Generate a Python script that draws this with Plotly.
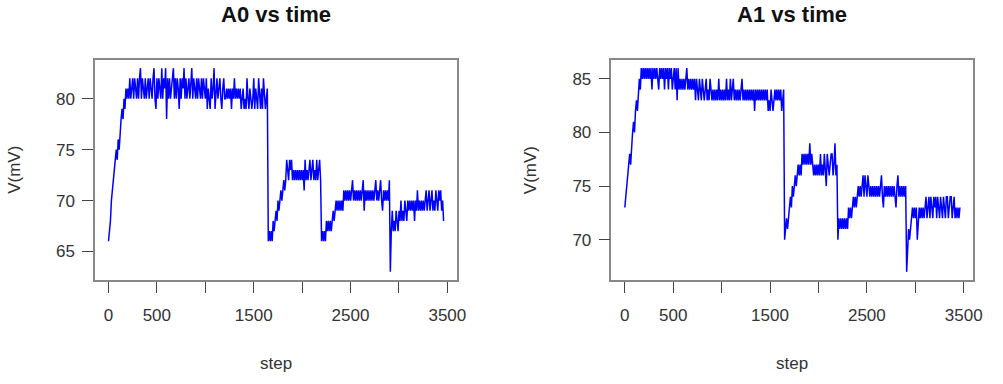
import plotly.graph_objects as go

STEP_SIZE = 10

a0_rise = [66, 67, 68, 70, 71, 72, 73, 74, 75, 74, 76, 75, 77, 78, 79, 78, 80, 79, 81, 80,
           81, 80, 82, 80, 81]
a0_plateau = [
    82, 80, 82, 81, 80, 82, 80, 82, 83, 80,
    82, 81, 80, 82, 80, 81, 82, 80, 82, 81,
    80, 82, 83, 80, 79, 82, 80, 82, 81, 80,
    83, 80, 82, 81, 83, 78, 82, 80, 82, 80,
    81, 82, 83, 80, 82, 80, 82, 81, 79, 82,
    80, 82, 81, 83, 80, 82, 80, 81, 82, 80,
    82, 83, 80, 82, 81, 80, 82, 80, 82, 81,
    80, 82, 80, 82, 81, 80, 82, 79, 81, 80,
    79, 82, 80, 81, 83, 79, 81, 82, 80, 81,
    82, 80, 79, 81, 82, 80,
    80, 81, 80, 81, 80, 81, 79, 81, 80, 82, 80, 81, 80, 81, 80, 81,
    79, 80, 81, 79, 80, 79, 82, 80, 79, 81, 80, 79, 80, 82, 79, 81, 80, 79, 82, 80,
    79, 81, 79, 82, 80, 79, 80, 81,
]
a0_seg2 = [
    66, 67, 66, 67, 66, 68, 67, 68, 69, 68,
    70, 69, 70, 71, 70, 71, 72, 71, 72, 74,
    73, 72, 74, 73, 74, 72, 73, 72, 73, 72,
    73, 72, 73, 72, 73, 72, 73, 71, 74, 72,
    73, 72, 73, 74, 72, 73, 74, 72, 73, 72,
    74, 72, 73, 74, 72,
]
a0_seg3 = [
    66, 67, 66, 67, 66, 68, 67, 68, 67, 68,
    67, 68, 69, 68, 69, 70, 69, 70, 69, 70,
    69, 70, 69, 71, 70, 71, 70, 71, 70, 71,
    70, 71, 72, 70, 71, 70, 71, 70, 71, 70,
    71, 70, 71, 72, 69, 71, 70, 71, 70, 71,
    70, 71, 70, 71, 70, 71, 72, 70, 71, 70,
    71, 72, 70, 69, 71, 70, 71, 70, 71, 70,
    72,
]
a0_seg4 = [
    63, 67, 69, 67, 68, 67, 69, 68, 67, 69,
    68, 70, 68, 69, 68, 70, 69, 68, 70, 69,
    70, 69, 70, 69, 70, 68, 70, 69, 71, 69,
    70, 69, 70, 69, 70, 69, 70, 71, 69, 70,
    71, 69, 70, 71, 69, 70, 69, 71, 70, 69,
    71, 70, 71, 69, 70, 68,
]

a1_rise = [73, 74, 75, 76, 77, 78, 77, 79, 80, 81, 80, 82, 83, 82, 84, 85, 84, 86, 85, 86]
a1_plateau = [
    85, 86, 85, 86, 85, 86, 85, 86, 84, 86,
    85, 86, 85, 86, 85, 84, 86, 85, 86, 85,
    86, 84, 86, 85, 86, 84, 86, 85, 86, 84,
    85, 86, 84, 86, 83, 86, 84, 85, 84, 85,
    84, 85, 84, 85, 86, 84, 85, 84, 85, 84,
    85, 84, 85, 83, 85, 84, 83, 85, 84, 83,
    85, 84, 83, 84, 85, 83, 84, 83, 85, 84,
    83, 84, 83, 84, 83, 84, 83, 85, 83, 84,
    83, 84, 83, 84, 83, 85, 83, 84, 83, 85,
    83, 84, 85, 83, 84, 83, 84, 83, 84, 83,
    84, 85, 83, 84, 83, 84, 83, 84, 83, 84,
    83, 84, 83, 84, 82, 84, 83, 84, 83, 84,
    83, 84, 83, 84, 83, 84, 83, 84, 82, 83,
    82, 84, 83, 82, 83, 84, 83, 84, 83, 84,
    83, 84, 82, 83, 84,
]
a1_seg2 = [
    70, 71, 72, 71, 72, 73, 74, 73, 75, 74,
    75, 76, 75, 76, 77, 76, 77, 76, 78, 77,
    78, 77, 78, 77, 78, 77, 79, 77, 78, 77,
    76, 77, 76, 77, 76, 77, 76, 78, 76, 77,
    76, 78, 76, 75, 78, 77, 76, 77, 78, 78,
    76, 77, 79, 76, 77,
]
a1_seg3 = [
    70, 72, 71, 72, 71, 72, 71, 72, 71, 72,
    71, 73, 72, 73, 72, 73, 74, 73, 74, 73,
    74, 75, 74, 75, 74, 75, 76, 74, 76, 75,
    74, 76, 75, 74, 75, 74, 75, 74, 75, 74,
    75, 74, 75, 74, 75, 76, 74, 73, 75, 74,
    75, 74, 75, 74, 75, 74, 75, 74, 75, 74,
    73, 75, 76, 74, 75, 74, 75, 74, 75, 74,
    75,
]
a1_seg4 = [
    67, 70, 71, 70, 71, 72, 73, 72, 73, 72,
    73, 70, 72, 73, 72, 73, 72, 73, 72, 73,
    74, 72, 73, 74, 72, 74, 73, 72, 74, 73,
    74, 72, 74, 73, 72, 74, 73, 72, 74, 73,
    72, 74, 74, 72, 73, 74, 74, 72, 73, 74,
    72, 73, 72, 73, 72, 73,
]

a0_values = a0_rise + a0_plateau + a0_seg2 + a0_seg3 + a0_seg4
a1_values = a1_rise + a1_plateau + a1_seg2 + a1_seg3 + a1_seg4

x_tick_vals = [0, 500, 1000, 1500, 2000, 2500, 3000, 3500]
x_tick_text = ["0", "500", "", "1500", "", "2500", "", "3500"]
a0_y_ticks = [65, 70, 75, 80]
a1_y_ticks = [70, 75, 80, 85]
titles = ["A0 vs time", "A1 vs time"]

steps0 = [1 + STEP_SIZE * k for k in range(len(a0_values))]
steps1 = [1 + STEP_SIZE * k for k in range(len(a1_values))]

W, H = 1003, 384
FONT = "Liberation Sans, Arial, sans-serif"
TEXT_COL = "#333333"

fig = go.Figure()
fig.add_trace(go.Scatter(x=steps0, y=a0_values, mode="lines",
                         line=dict(color="#0000ff", width=1.5), xaxis="x", yaxis="y",
                         showlegend=False, hoverinfo="skip"))
fig.add_trace(go.Scatter(x=steps1, y=a1_values, mode="lines",
                         line=dict(color="#0000ff", width=1.5), xaxis="x2", yaxis="y2",
                         showlegend=False, hoverinfo="skip"))

left_px = [96, 617]
right_px = [461, 982]
top_px, bot_px = 60, 280
ydom = [1 - bot_px / H, 1 - top_px / H]

def xaxis(i):
    return dict(domain=[left_px[i] / W, right_px[i] / W], range=[-137, 3598],
                tickmode="array", tickvals=x_tick_vals, ticktext=x_tick_text,
                ticks="outside", ticklen=11, tickwidth=1, tickcolor="#444444",
                ticklabelstandoff=8,
                showline=True, linecolor="#888888", linewidth=1.5, mirror=True,
                showgrid=False, zeroline=False,
                tickfont=dict(family=FONT, size=17, color=TEXT_COL),
                anchor="y" if i == 0 else "y2", fixedrange=True)

def yaxis(i, rng, tv):
    return dict(domain=ydom, range=rng, tickmode="array", tickvals=tv,
                ticks="outside", ticklen=11, tickwidth=1, tickcolor="#444444",
                ticklabelstandoff=4,
                showline=True, linecolor="#888888", linewidth=1.5, mirror=True,
                showgrid=False, zeroline=False,
                tickfont=dict(family=FONT, size=17, color=TEXT_COL),
                anchor="x" if i == 0 else "x2", fixedrange=True)

fig.update_layout(
    width=W, height=H,
    margin=dict(l=0, r=0, t=0, b=0),
    paper_bgcolor="white", plot_bgcolor="white",
    xaxis=xaxis(0), xaxis2=xaxis(1),
    yaxis=yaxis(0, [62.2, 83.8], a0_y_ticks),
    yaxis2=yaxis(1, [66.24, 86.76], a1_y_ticks),
)

ann = []
for i in range(2):
    cx = (left_px[i] + right_px[i]) / 2 / W
    ann.append(dict(text="<b>" + titles[i] + "</b>", x=cx, y=1 - 14 / H, xref="paper", yref="paper",
                    showarrow=False, xanchor="center", yanchor="middle",
                    font=dict(family=FONT, size=22, color="#111111")))
    ann.append(dict(text="step", x=cx, y=1 - 363 / H, xref="paper", yref="paper",
                    showarrow=False, xanchor="center", yanchor="middle",
                    font=dict(family=FONT, size=17, color=TEXT_COL)))
    ann.append(dict(text="V(mV)", x=(left_px[i] - 81) / W, y=(ydom[0] + ydom[1]) / 2,
                    xref="paper", yref="paper", textangle=-90,
                    showarrow=False, xanchor="center", yanchor="middle",
                    font=dict(family=FONT, size=17, color=TEXT_COL)))
fig.update_layout(annotations=ann)

fig.write_html("out.html")
